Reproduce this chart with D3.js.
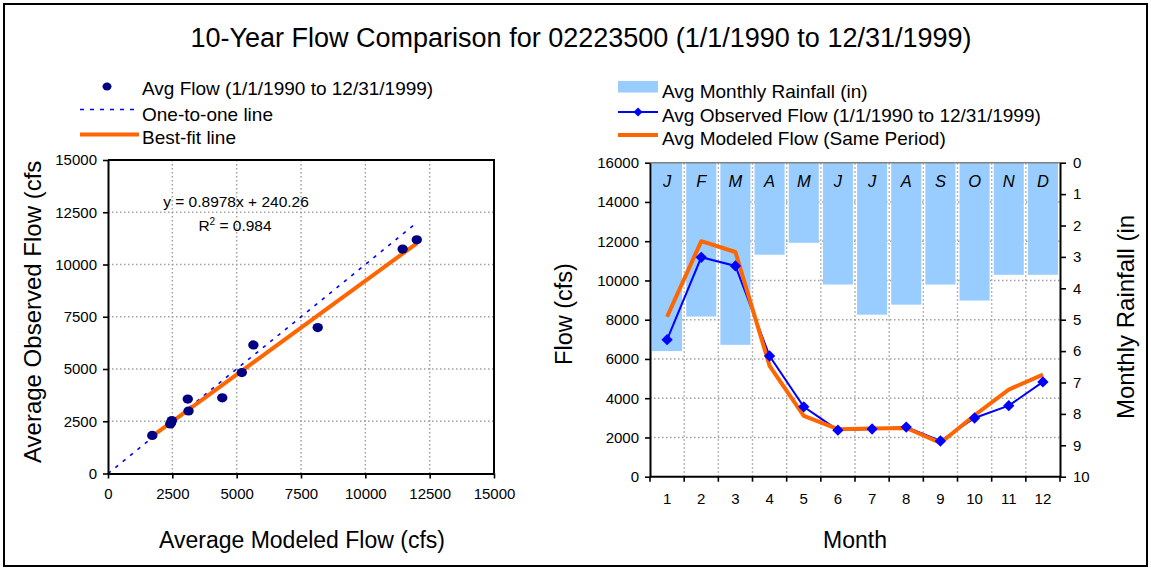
<!DOCTYPE html>
<html>
<head>
<meta charset="utf-8">
<script src="https://cdn.jsdelivr.net/npm/d3@7"></script>
<style>
  body { margin: 0; background: #fff; }
  text { font-family: "Liberation Sans", Arial, sans-serif; fill: #000; }
</style>
</head>
<body>
<svg id="chart" width="1151" height="569"></svg>
<script>
// Monthly averages, 1/1/1990 to 12/31/1999
const months = [1, 2, 3, 4, 5, 6, 7, 8, 9, 10, 11, 12];
const monthLetters = ["J", "F", "M", "A", "M", "J", "J", "A", "S", "O", "N", "D"];
const observedFlow = [6980, 11180, 10740, 6150, 3560, 2370, 2430, 2530, 1820, 2990, 3620, 4830];
const modeledFlow  = [8150, 12000, 11450, 5650, 3100, 2420, 2450, 2480, 1720, 3130, 4440, 5200];
const rainfall     = [6.0, 4.9, 5.8, 2.93, 2.55, 3.88, 4.84, 4.52, 3.88, 4.39, 3.57, 3.57];

// Axis tick values
const scatterTicks = [0, 2500, 5000, 7500, 10000, 12500, 15000];
const flowTicks = [0, 2000, 4000, 6000, 8000, 10000, 12000, 14000, 16000];
const rainTicks = [0, 1, 2, 3, 4, 5, 6, 7, 8, 9, 10];

// Regression of observed on modeled flow
const fitSlope = 0.8978;
const fitIntercept = 240.26;
const fitR2 = 0.984;

const svg = d3.select("#chart");
const ORANGE = "#FF6600", BLUE = "#0000FF", NAVY = "#000080", RAIN = "#99CCFF", GRID = "#A0A0A0";

// Outer frame
svg.append("rect").attr("x", 4).attr("y", 4).attr("width", 1143).attr("height", 562)
  .attr("fill", "#fff").attr("stroke", "#000").attr("stroke-width", 2);

// Title
svg.append("text").attr("x", 581).attr("y", 47).attr("text-anchor", "middle")
  .attr("font-size", 27).text("10-Year Flow Comparison for 02223500 (1/1/1990 to 12/31/1999)");

function styleAxis(g, fontSize) {
  g.select(".domain").attr("stroke", "#000").attr("stroke-width", 2);
  g.selectAll(".tick line").attr("stroke", "#000").attr("stroke-width", 1.6);
  g.selectAll(".tick text").attr("font-size", fontSize).attr("fill", "#000")
    .attr("font-family", "Liberation Sans, Arial, sans-serif");
}

// ---------------- Scatter: observed vs modeled ----------------
const sx = d3.scaleLinear().domain([0, 15000]).range([108, 494]);
const sy = d3.scaleLinear().domain([0, 15000]).range([473.5, 160]);
const left = svg.append("g");

// grid
left.append("g").selectAll("line").data(scatterTicks.slice(1, -1)).join("line")
  .attr("x1", d => sx(d)).attr("x2", d => sx(d)).attr("y1", sy(0)).attr("y2", sy(15000))
  .attr("stroke", GRID).attr("stroke-width", 1.5).attr("stroke-dasharray", "1.5,2.5");
left.append("g").selectAll("line").data(scatterTicks.slice(1, -1)).join("line")
  .attr("y1", d => sy(d)).attr("y2", d => sy(d)).attr("x1", sx(0)).attr("x2", sx(15000))
  .attr("stroke", GRID).attr("stroke-width", 1.5).attr("stroke-dasharray", "1.5,2.5");

// top/right border
left.append("path")
  .attr("d", `M${sx(0)},${sy(15000)}H${sx(15000)}V${sy(0)}`)
  .attr("fill", "none").attr("stroke", "#000").attr("stroke-width", 2);

// one-to-one line
const oneMax = d3.max(modeledFlow) - 100;
left.append("line").attr("x1", sx(0)).attr("y1", sy(0)).attr("x2", sx(oneMax)).attr("y2", sy(oneMax))
  .attr("stroke", BLUE).attr("stroke-width", 1.6).attr("stroke-dasharray", "3.5,6");

// best-fit line
const [fx0, fx1] = d3.extent(modeledFlow);
left.append("line")
  .attr("x1", sx(fx0)).attr("y1", sy(fitSlope * fx0 + fitIntercept))
  .attr("x2", sx(fx1)).attr("y2", sy(fitSlope * fx1 + fitIntercept))
  .attr("stroke", ORANGE).attr("stroke-width", 4);

// points
left.append("g").selectAll("ellipse").data(months.map((m, i) => [modeledFlow[i], observedFlow[i]])).join("ellipse")
  .attr("cx", d => sx(d[0])).attr("cy", d => sy(d[1])).attr("rx", 5.2).attr("ry", 4.6)
  .attr("fill", NAVY);

// equation
left.append("text").attr("x", 236).attr("y", 207).attr("text-anchor", "middle").attr("font-size", 15.5)
  .text(`y = ${fitSlope}x + ${fitIntercept}`);
const r2 = left.append("text").attr("x", 235).attr("y", 231).attr("text-anchor", "middle").attr("font-size", 15.5);
r2.append("tspan").text("R");
r2.append("tspan").attr("dy", -6).attr("font-size", 10).text("2");
r2.append("tspan").attr("dy", 6).text(` = ${fitR2}`);

// axes
left.append("g").attr("transform", `translate(${sx(0)},0)`)
  .call(d3.axisLeft(sy).tickValues(scatterTicks).tickSize(5).tickSizeOuter(0).tickPadding(6).tickFormat(d3.format("d")))
  .call(g => styleAxis(g, 15));
left.append("g").attr("transform", `translate(0,${sy(0)})`)
  .call(d3.axisBottom(sx).tickValues(scatterTicks).tickSize(5).tickSizeOuter(0).tickPadding(10).tickFormat(d3.format("d")))
  .call(g => styleAxis(g, 15));

// axis titles
left.append("text").attr("transform", "translate(41,463) rotate(-90)").attr("font-size", 24)
  .text("Average Observed Flow (cfs");
left.append("text").attr("x", 302).attr("y", 548).attr("text-anchor", "middle").attr("font-size", 23)
  .text("Average Modeled Flow (cfs)");

// legend
const lg = left.append("g");
lg.append("ellipse").attr("cx", 107).attr("cy", 86.5).attr("rx", 4.5).attr("ry", 4).attr("fill", NAVY);
lg.append("text").attr("x", 142).attr("y", 94.5).attr("font-size", 19).text("Avg Flow (1/1/1990 to 12/31/1999)");
lg.append("line").attr("x1", 80).attr("x2", 139).attr("y1", 109.5).attr("y2", 109.5)
  .attr("stroke", BLUE).attr("stroke-width", 1.4).attr("stroke-dasharray", "4,6");
lg.append("text").attr("x", 142).attr("y", 120.5).attr("font-size", 19).text("One-to-one line");
lg.append("line").attr("x1", 80).attr("x2", 139).attr("y1", 134.5).attr("y2", 134.5)
  .attr("stroke", ORANGE).attr("stroke-width", 4);
lg.append("text").attr("x", 142).attr("y", 144).attr("font-size", 19).text("Best-fit line");

// ---------------- Monthly flow and rainfall ----------------
const mx = d3.scaleBand().domain(months).range([650, 1060]).paddingInner(0.12).paddingOuter(0.06);
const step = mx.step();
const cellLeft = m => 650 + (m - 1) * step;
const mid = m => mx(m) + mx.bandwidth() / 2;
const fy = d3.scaleLinear().domain([0, 16000]).range([476.7, 162.7]);
const ry = d3.scaleLinear().domain([0, 10]).range([162.7, 476.7]);
const right = svg.append("g");

// grid
right.append("g").selectAll("line").data(months.slice(1)).join("line")
  .attr("x1", d => cellLeft(d)).attr("x2", d => cellLeft(d)).attr("y1", fy(0)).attr("y2", fy(16000))
  .attr("stroke", GRID).attr("stroke-width", 1.5).attr("stroke-dasharray", "1.5,2.5");
right.append("g").selectAll("line").data(flowTicks.slice(1, -1)).join("line")
  .attr("y1", d => fy(d)).attr("y2", d => fy(d)).attr("x1", 650).attr("x2", 1060)
  .attr("stroke", GRID).attr("stroke-width", 1.5).attr("stroke-dasharray", "1.5,2.5");

// rainfall bars hanging from the top
right.append("g").selectAll("rect").data(months).join("rect")
  .attr("x", d => mx(d)).attr("width", mx.bandwidth())
  .attr("y", ry(0)).attr("height", (d, i) => ry(rainfall[i]) - ry(0))
  .attr("fill", RAIN);

// month letters
right.append("g").selectAll("text").data(months).join("text")
  .attr("x", d => mid(d)).attr("y", 186.5).attr("text-anchor", "middle")
  .attr("font-size", 16.5).attr("font-style", "italic").attr("fill", "#111")
  .text((d, i) => monthLetters[i]);

// top border
right.append("line").attr("x1", 650).attr("x2", 1060).attr("y1", fy(16000)).attr("y2", fy(16000))
  .attr("stroke", "#808080").attr("stroke-width", 1.5);

// flow lines
const lineObs = d3.line().x((d, i) => mid(months[i])).y(d => fy(d));
right.append("path").datum(observedFlow).attr("d", lineObs)
  .attr("fill", "none").attr("stroke", BLUE).attr("stroke-width", 2);
right.append("path").datum(modeledFlow).attr("d", lineObs)
  .attr("fill", "none").attr("stroke", ORANGE).attr("stroke-width", 4).attr("stroke-linejoin", "round");
const diamond = d3.symbol(d3.symbolSquare, 64);
right.append("g").selectAll("path").data(observedFlow).join("path")
  .attr("d", diamond)
  .attr("transform", (d, i) => `translate(${mid(months[i])},${fy(d)}) rotate(45)`)
  .attr("fill", BLUE);

// axes
right.append("g").attr("transform", "translate(650,0)")
  .call(d3.axisLeft(fy).tickValues(flowTicks).tickSize(5).tickSizeOuter(0).tickPadding(6).tickFormat(d3.format("d")))
  .call(g => styleAxis(g, 15));
right.append("g").attr("transform", "translate(1060,0)")
  .call(d3.axisRight(ry).tickValues(rainTicks).tickSize(6).tickSizeOuter(0).tickPadding(7))
  .call(g => styleAxis(g, 15));
const bottom = right.append("g").attr("transform", `translate(0,${fy(0)})`)
  .call(d3.axisBottom(mx).tickSize(0).tickSizeOuter(0).tickPadding(17))
  .call(g => styleAxis(g, 15));
bottom.select(".domain").attr("d", "M650,0H1060");
bottom.append("g").selectAll("line").data(d3.range(13)).join("line")
  .attr("x1", k => 650 + k * step).attr("x2", k => 650 + k * step).attr("y1", 0).attr("y2", 5)
  .attr("stroke", "#000").attr("stroke-width", 1.6);

// axis titles
right.append("text").attr("transform", "translate(571.5,314) rotate(-90)").attr("text-anchor", "middle")
  .attr("font-size", 23.5).text("Flow (cfs)");
right.append("text").attr("transform", "translate(1134,419) rotate(-90)")
  .attr("font-size", 24).text("Monthly Rainfall (in");
right.append("text").attr("x", 855).attr("y", 548).attr("text-anchor", "middle")
  .attr("font-size", 23).text("Month");

// legend
const rg = right.append("g");
rg.append("rect").attr("x", 618).attr("y", 81).attr("width", 40).attr("height", 11.5).attr("fill", RAIN);
rg.append("text").attr("x", 662).attr("y", 97.5).attr("font-size", 19).text("Avg Monthly Rainfall (in)");
rg.append("line").attr("x1", 618).attr("x2", 658).attr("y1", 112).attr("y2", 112)
  .attr("stroke", BLUE).attr("stroke-width", 2);
rg.append("path").attr("d", d3.symbol(d3.symbolSquare, 40))
  .attr("transform", "translate(638,112) rotate(45)").attr("fill", BLUE);
rg.append("text").attr("x", 662).attr("y", 121.5).attr("font-size", 19).text("Avg Observed Flow (1/1/1990 to 12/31/1999)");
rg.append("line").attr("x1", 618).attr("x2", 658).attr("y1", 135).attr("y2", 135)
  .attr("stroke", ORANGE).attr("stroke-width", 4);
rg.append("text").attr("x", 662).attr("y", 145).attr("font-size", 19).text("Avg Modeled Flow (Same Period)");
</script>
</body>
</html>
